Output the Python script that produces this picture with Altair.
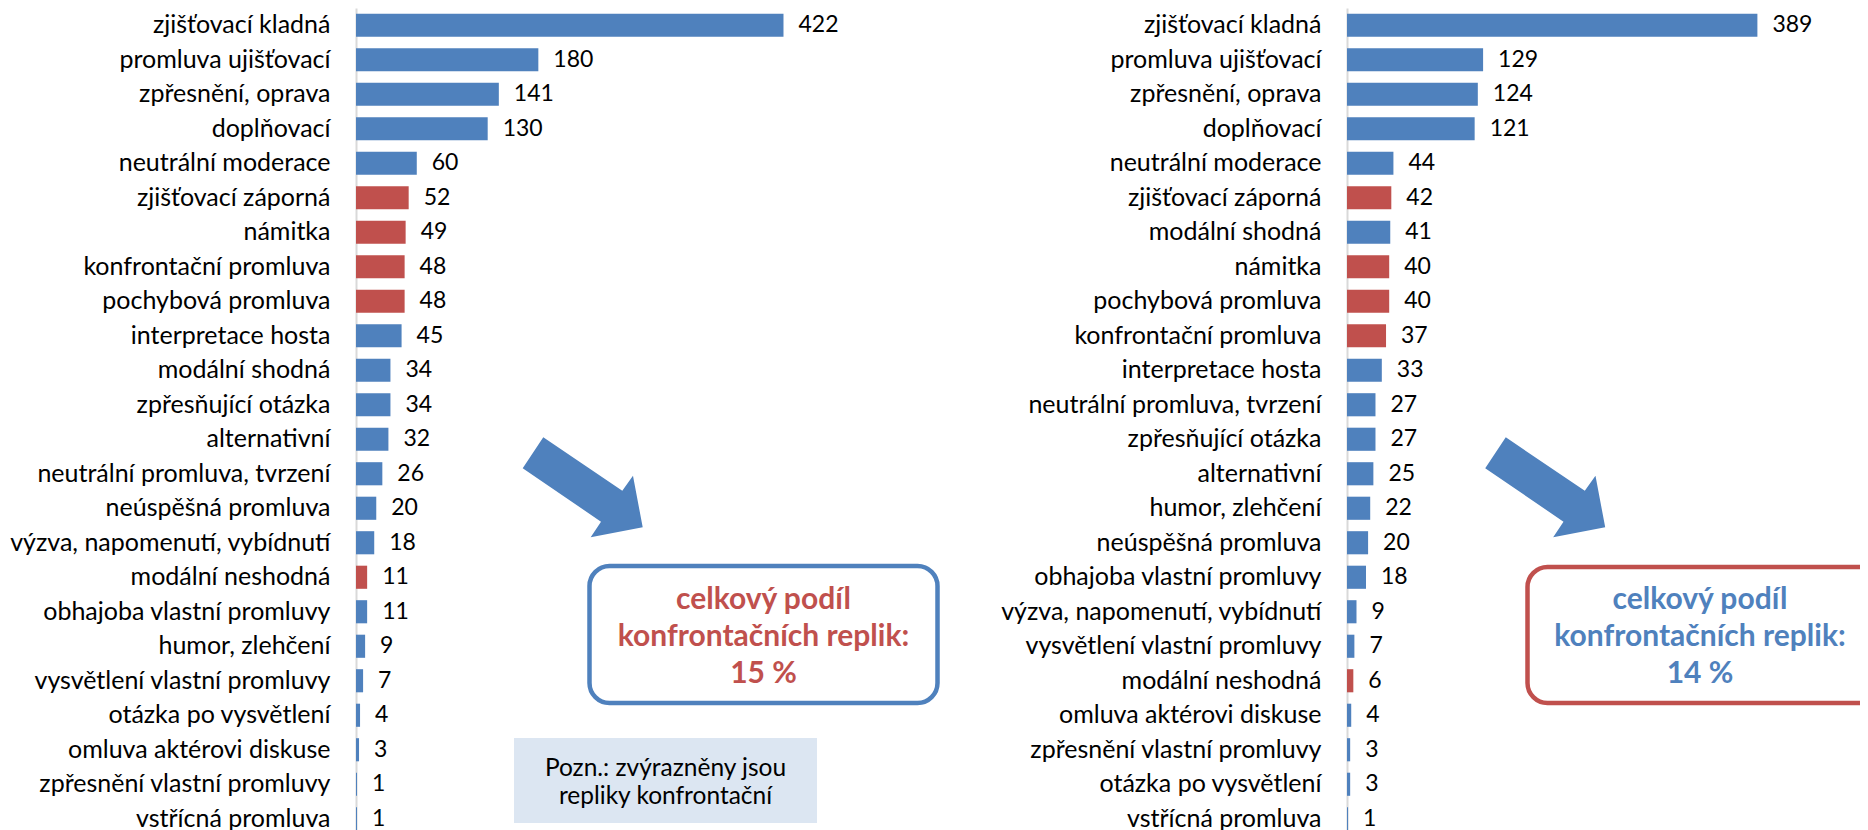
import altair as alt
import pandas as pd

BLUE = "#4F81BD"
RED = "#C0504D"
FONT = "Lato"

CONFRONT = ["zjišťovací záporná", "námitka", "konfrontační promluva",
            "pochybová promluva", "modální neshodná"]

left_cats = ["zjišťovací kladná", "promluva ujišťovací", "zpřesnění, oprava", "doplňovací",
             "neutrální moderace", "zjišťovací záporná", "námitka", "konfrontační promluva",
             "pochybová promluva", "interpretace hosta", "modální shodná", "zpřesňující otázka",
             "alternativní", "neutrální promluva, tvrzení", "neúspěšná promluva",
             "výzva, napomenutí, vybídnutí", "modální neshodná", "obhajoba vlastní promluvy",
             "humor, zlehčení", "vysvětlení vlastní promluvy", "otázka po vysvětlení",
             "omluva aktérovi diskuse", "zpřesnění vlastní promluvy", "vstřícná promluva"]
left_vals = [422, 180, 141, 130, 60, 52, 49, 48, 48, 45, 34, 34, 32, 26, 20, 18, 11, 11, 9, 7, 4, 3, 1, 1]

right_cats = ["zjišťovací kladná", "promluva ujišťovací", "zpřesnění, oprava", "doplňovací",
              "neutrální moderace", "zjišťovací záporná", "modální shodná", "námitka",
              "pochybová promluva", "konfrontační promluva", "interpretace hosta",
              "neutrální promluva, tvrzení", "zpřesňující otázka", "alternativní",
              "humor, zlehčení", "neúspěšná promluva", "obhajoba vlastní promluvy",
              "výzva, napomenutí, vybídnutí", "vysvětlení vlastní promluvy", "modální neshodná",
              "omluva aktérovi diskuse", "zpřesnění vlastní promluvy", "otázka po vysvětlení",
              "vstřícná promluva"]
right_vals = [389, 129, 124, 121, 44, 42, 41, 40, 40, 37, 33, 27, 27, 25, 22, 20, 18, 9, 7, 6, 4, 3, 3, 1]

left_box_text = ["celkový podíl", "konfrontačních replik:", "15 %"]
right_box_text = ["celkový podíl", "konfrontačních replik:", "14 %"]
note_text = ["Pozn.: zvýrazněny jsou", "repliky konfrontační"]

# arrow outline, normalised to [-1, 1]
ARROW = ("M -0.657 -0.833 L 0.660 0.057 L 0.838 -0.193 L 1 0.667 "
         "L 0.133 0.833 L 0.305 0.573 L -1 -0.317 Z")

H = 828
LEFT_EXT = 348
RIGHT_EXT = 387
one = pd.DataFrame({"a": [0]})


def panel(cats, vals, width, xmax, arrow_x, box, box_stroke, box_color, box_lines, note=False):
    df = pd.DataFrame({"cat": cats, "val": vals,
                       "kind": ["konfrontační" if c in CONFRONT else "ostatní" for c in cats]})
    base = alt.Chart(df).encode(
        y=alt.Y("cat:N", sort=cats, title=None,
                scale=alt.Scale(paddingInner=0.33, paddingOuter=0.165),
                axis=alt.Axis(domainColor="#D9D9D9", domainWidth=2, ticks=False,
                              labelFont=FONT, labelFontSize=25, labelColor="black",
                              labelPadding=26, labelLimit=500)),
        x=alt.X("val:Q", scale=alt.Scale(domain=[0, xmax], nice=False), axis=None),
    )
    bars = base.mark_bar().encode(
        color=alt.Color("kind:N", scale=alt.Scale(domain=["ostatní", "konfrontační"],
                                                  range=[BLUE, RED]), legend=None))
    labels = base.mark_text(align="left", baseline="middle", dx=15, font=FONT,
                            fontSize=23, color="black").encode(text="val:Q")
    arrow = alt.Chart(one).mark_point(shape=ARROW, filled=True, size=14400, color=BLUE,
                                      opacity=1, strokeWidth=0).encode(
        x=alt.value(arrow_x), y=alt.value(479.3))
    x1, x2, y1, y2, tx = box
    rect = alt.Chart(one).mark_rect(cornerRadius=20, fill="white", stroke=box_stroke,
                                    strokeWidth=4.5, clip=True).encode(
        x=alt.value(x1), x2=alt.value(x2), y=alt.value(y1), y2=alt.value(y2))
    btext = alt.Chart(one).mark_text(text=box_lines, lineHeight=37, font=FONT, fontSize=30,
                                     fontWeight="bold", color=box_color, align="center",
                                     baseline="middle").encode(
        x=alt.value(tx), y=alt.value(592))
    layers = [bars, labels, arrow, rect, btext]
    if note:
        # white (invisible) spacer fixing the room reserved for the category labels
        spacer = alt.Chart(one).mark_rect(fill="white", strokeWidth=0).encode(
            x=alt.value(-LEFT_EXT), x2=alt.value(-LEFT_EXT + 1), y=alt.value(0), y2=alt.value(1))
        nrect = alt.Chart(one).mark_rect(fill="#DCE6F2").encode(
            x=alt.value(158), x2=alt.value(461), y=alt.value(730), y2=alt.value(815))
        ntext = alt.Chart(one).mark_text(text=note_text, lineHeight=28, font=FONT, fontSize=24.5,
                                         color="black", align="center",
                                         baseline="middle").encode(
            x=alt.value(309.5), y=alt.value(761))
        layers = [spacer] + layers + [nrect, ntext]
    return alt.layer(*layers).properties(width=width, height=H)


left = panel(left_cats, left_vals, 604, 604 / 1.013, 226.7,
             (233.5, 581.5, 558, 695, 407.5), BLUE, RED, left_box_text, note=True)
right = panel(right_cats, right_vals, 513, 513 / 1.055, 198.2,
              (180.5, 545, 559, 695, 353), RED, BLUE, right_box_text)

chart = alt.hconcat(left, right, spacing=RIGHT_EXT, bounds="flush").properties(
    padding=0).configure_view(strokeWidth=0)

chart.save("out.html", embed_options={"renderer": "svg", "actions": False})
